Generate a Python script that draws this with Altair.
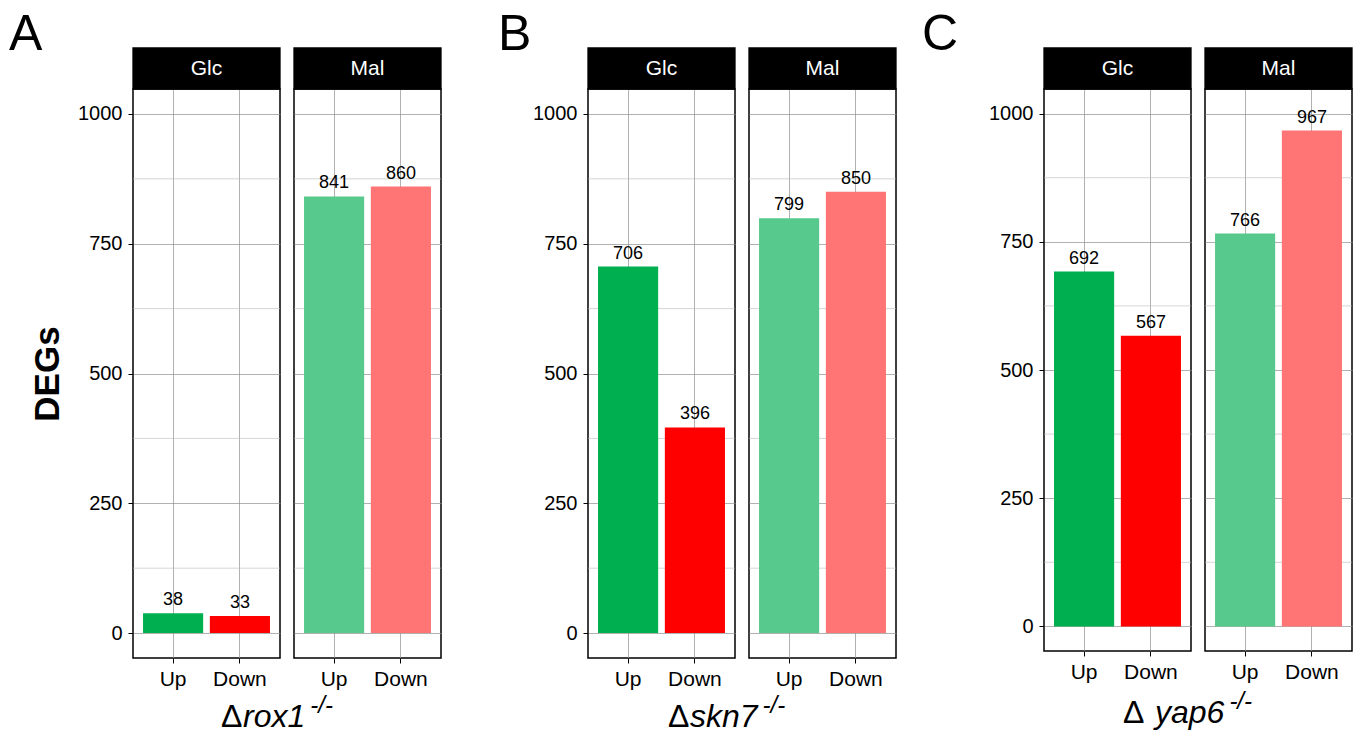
import altair as alt
import pandas as pd

# ---------------- data ----------------
groups = ["A", "B", "C"]
genes = ["rox1", "skn7", "yap6"]
conditions = ["Glc", "Mal"]
directions = ["Up", "Down"]
glc_up = [38, 706, 692]
glc_down = [33, 396, 567]
mal_up = [841, 799, 766]
mal_down = [860, 850, 967]
y_ticks = [0, 250, 500, 750, 1000]
minor_breaks = [125, 375, 625, 875]
color_keys = ["Glc Up", "Glc Down", "Mal Up", "Mal Down"]
color_range = ["#00B050", "#FF0000", "#58C98C", "#FF7575"]

rows = []
for i, g in enumerate(groups):
    vals = {("Glc", "Up"): glc_up[i], ("Glc", "Down"): glc_down[i],
            ("Mal", "Up"): mal_up[i], ("Mal", "Down"): mal_down[i]}
    for c in conditions:
        for d in directions:
            rows.append({"group": g, "cond": c, "dir": d, "value": vals[(c, d)],
                         "key": f"{c} {d}"})
df = pd.DataFrame(rows)
minor_df = pd.DataFrame({"v": minor_breaks})

# ---------------- layout ----------------
FONT = "Liberation Sans"
W = 147
heights = [569, 569, 562]
letter_dx = [-124, -90, -122]
title_dx = [88, 80, 79]
gene_gap = [22, 22, 32]
title_dy = [69, 69, 72]
sup_dy = [55, 55, 58]
TFS = 32
SFS = 24
adv = {"r": .333, "o": .556, "x": .5, "1": .556, "s": .5, "k": .5, "n": .556,
       "7": .556, "y": .5, "a": .556, "p": .556, "6": .556}
YDOM = [-48, 1048]
GRID = "#8f8f8f"
MINOR = "#b8b8b8"
BORDER = alt.ViewBackground(stroke="black", strokeWidth=1.5)


def panel(gi, cond):
    g = groups[gi]
    H = heights[gi]
    first = cond == "Glc"
    sub = df[(df.group == g) & (df.cond == cond)]
    xscale = alt.Scale(domain=directions, paddingInner=0.1, paddingOuter=0.15)
    yscale = alt.Scale(domain=YDOM, nice=False, zero=False)
    xaxis = alt.Axis(title=None, labelAngle=0, bandPosition=0.5, grid=True,
                     gridColor=GRID, gridWidth=0.7, domain=False,
                     ticks=True, tickSize=5, tickColor="black", tickWidth=1,
                     labelFontSize=21, labelColor="black", labelFont=FONT,
                     labelPadding=5)
    if first:
        yaxis = alt.Axis(values=y_ticks, format="d", grid=True, gridColor=GRID,
                         gridWidth=0.7, domain=False, ticks=True, tickSize=5,
                         tickColor="black", tickWidth=1, labelFontSize=20,
                         labelColor="black", labelFont=FONT, labelPadding=6,
                         title="DEGs" if gi == 0 else None,
                         titleFontSize=35, titleFontWeight="bold", titleFont=FONT,
                         titleColor="black", titlePadding=12)
    else:
        yaxis = alt.Axis(values=y_ticks, grid=True, gridColor=GRID, gridWidth=0.7,
                         domain=False, ticks=False, labels=False, title=None)

    minor = alt.Chart(minor_df).mark_rule(color=MINOR, strokeWidth=0.6).encode(
        y=alt.Y("v:Q", scale=yscale, axis=yaxis))
    bars = alt.Chart(sub).mark_bar().encode(
        x=alt.X("dir:N", scale=xscale, axis=xaxis, sort=directions),
        y=alt.Y("value:Q", scale=yscale, axis=yaxis),
        y2=alt.datum(0),
        color=alt.Color("key:N", scale=alt.Scale(domain=color_keys, range=color_range),
                        legend=None))
    labels = alt.Chart(sub).mark_text(fontSize=18, font=FONT, color="black",
                                      baseline="alphabetic", dy=-8).encode(
        x=alt.X("dir:N", scale=xscale, axis=xaxis, sort=directions),
        y=alt.Y("value:Q", scale=yscale, axis=yaxis),
        text="value:Q")
    strip_df = pd.DataFrame({"cond": [cond]})
    strip = alt.Chart(strip_df).mark_rect(color="black", stroke="black",
                                          strokeWidth=1.3).encode(
        x=alt.value(0), x2=alt.value(W), y=alt.value(-41), y2=alt.value(0))
    strip_text = alt.Chart(strip_df).mark_text(color="white", fontSize=21, font=FONT,
                                               baseline="middle", align="center").encode(
        x=alt.value(W / 2), y=alt.value(-20), text="cond:N")
    layers = [minor, bars, labels, strip, strip_text]
    if first:
        gene = genes[gi]
        gw = sum(adv[ch] for ch in gene) * TFS + 5
        x0 = title_dx[gi]
        letter = alt.Chart(pd.DataFrame({"t": [g]})).mark_text(
            fontSize=50, font=FONT, color="black", align="left",
            baseline="alphabetic").encode(
            x=alt.value(letter_dx[gi]), y=alt.value(-39), text="t:N")
        delta = alt.Chart(pd.DataFrame({"t": ["Δ"]})).mark_text(
            fontSize=TFS, font=FONT, color="black", align="left",
            baseline="alphabetic").encode(
            x=alt.value(x0), y=alt.value(H + title_dy[gi]), text="t:N")
        gname = alt.Chart(pd.DataFrame({"t": [gene]})).mark_text(
            fontSize=TFS, font=FONT, fontStyle="italic", color="black", align="left",
            baseline="alphabetic").encode(
            x=alt.value(x0 + gene_gap[gi]), y=alt.value(H + title_dy[gi]), text="t:N")
        sup = alt.Chart(pd.DataFrame({"t": ["-/-"]})).mark_text(
            fontSize=SFS, font=FONT, fontStyle="italic", color="black", align="left",
            baseline="alphabetic").encode(
            x=alt.value(x0 + gene_gap[gi] + gw), y=alt.value(H + sup_dy[gi]), text="t:N")
        layers += [letter, delta, gname, sup]
    return alt.layer(*layers).properties(width=W, height=H, view=BORDER)


def spacer(w):
    return alt.Chart(pd.DataFrame({"t": [""]})).mark_text().encode(
        text="t:N").properties(width=w, height=1,
                               view=alt.ViewBackground(stroke="transparent"))


spacer_widths = [119, 120]
panels = []
for i in range(3):
    if i > 0:
        panels.append(spacer(spacer_widths[i - 1]))
    panels.append(panel(i, "Glc"))
    panels.append(panel(i, "Mal"))

chart = alt.hconcat(*panels, spacing=14, bounds="flush").properties(
    padding={"left": 0, "top": 1, "right": 0, "bottom": 0}
).configure(font=FONT, background="white").configure_view(
    stroke="black", strokeWidth=1.5)

chart.save("out.html", embed_options={"renderer": "svg", "actions": False})
